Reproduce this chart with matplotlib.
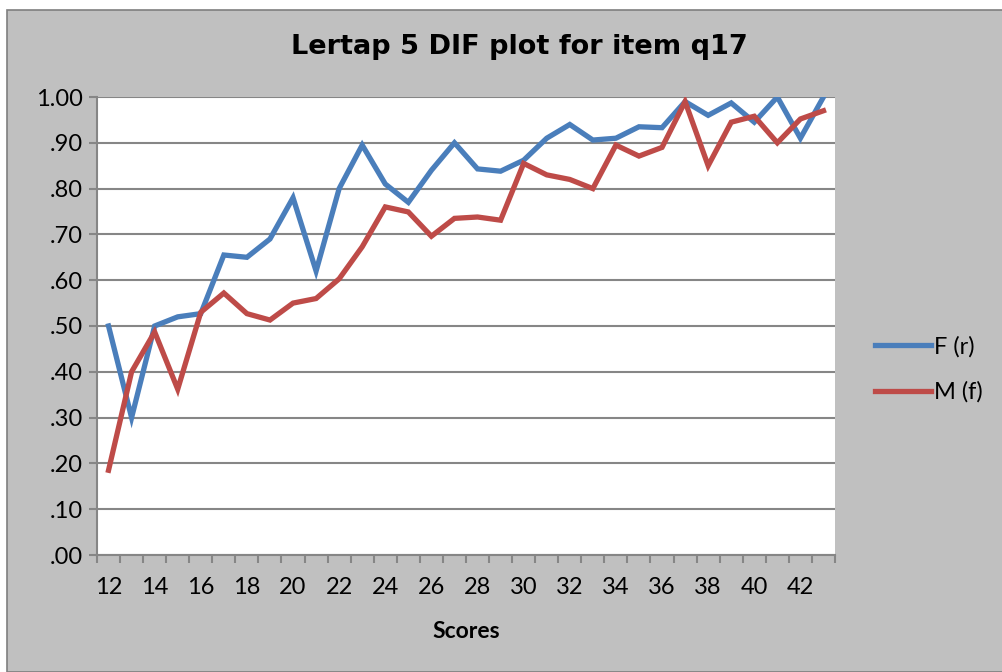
import matplotlib.pyplot as plt
from matplotlib.patches import Rectangle
from matplotlib.ticker import FixedLocator, FuncFormatter

# Data
scores = list(range(12, 44))
f_r = [0.50, 0.30, 0.50, 0.52, 0.527, 0.655, 0.65, 0.69, 0.78, 0.62,
       0.80, 0.895, 0.81, 0.77, 0.84, 0.90, 0.843, 0.838, 0.862, 0.91,
       0.94, 0.906, 0.91, 0.935, 0.933, 0.99, 0.96, 0.987, 0.945, 1.00,
       0.91, 1.00]
m_f = [0.185, 0.40, 0.487, 0.362, 0.53, 0.572, 0.527, 0.513, 0.55, 0.56,
       0.603, 0.673, 0.76, 0.749, 0.696, 0.735, 0.738, 0.731, 0.855, 0.83,
       0.82, 0.80, 0.895, 0.871, 0.89, 0.99, 0.85, 0.945, 0.958, 0.90,
       0.952, 0.97]
y_ticks = [i / 10 for i in range(11)]

W, H = 1003, 672
bg = '#C0C0C0'
grid_col = '#868686'
plt.rcParams['font.family'] = ['Lato', 'DejaVu Sans']

fig = plt.figure(figsize=(W / 100, H / 100), dpi=100, facecolor='white')

# gray chart area with border
fig.patches.append(Rectangle((7 / W, 0), 1 - 7 / W, 1 - 10 / H, transform=fig.transFigure,
                             facecolor=bg, edgecolor='#7F7F7F', linewidth=1.2, zorder=-5))

ax = fig.add_axes([97 / W, (H - 555) / H, 738 / W, 458 / H])
ax.set_facecolor('white')

x = list(range(len(scores)))
ax.plot(x, f_r, color='#4A7EBB', linewidth=3.8, label='F (r)', solid_joinstyle='miter', zorder=3)
ax.plot(x, m_f, color='#BE4B48', linewidth=3.8, label='M (f)', solid_joinstyle='miter', zorder=3)

ax.set_xlim(-0.5, len(scores) - 0.5)
ax.set_ylim(0, 1.0)

# y axis
ax.set_yticks(y_ticks)
ax.yaxis.set_major_formatter(FuncFormatter(lambda v, p: '1.00' if v >= 1 else ('%.2f' % v)[1:]))
ax.grid(axis='y', color=grid_col, linewidth=1.5)
ax.set_axisbelow(True)

# x axis: labels every other category, tick marks between categories
ax.xaxis.set_major_locator(FixedLocator(x[::2]))
ax.set_xticklabels([str(s) for s in scores[::2]])
ax.xaxis.set_minor_locator(FixedLocator([i - 0.5 for i in range(len(scores) + 1)]))
ax.tick_params(axis='x', which='major', length=0, pad=16, labelsize=17)
ax.tick_params(axis='x', which='minor', length=6, color=grid_col, width=1.5)
ax.tick_params(axis='y', length=6, color=grid_col, width=1.5, labelsize=17, pad=4)

for side in ['top', 'right']:
    ax.spines[side].set_visible(False)
for side in ['left', 'bottom']:
    ax.spines[side].set_color(grid_col)
    ax.spines[side].set_linewidth(1.5)

fig.text(519 / W, 1 - 47 / H, 'Lertap 5 DIF plot for item q17',
         ha='center', va='center', fontsize=19.5, fontweight='bold', family='DejaVu Sans')
fig.text(466 / W, 1 - 631 / H, 'Scores', ha='center', va='center', fontsize=16.5, fontweight='bold')

ax.legend(loc='center left', bbox_to_anchor=(1.025, 0.405), frameon=False, fontsize=17,
          handlelength=2.4, handletextpad=0.1, labelspacing=1.0)

fig.savefig('out.png', dpi=100, facecolor=fig.get_facecolor())
